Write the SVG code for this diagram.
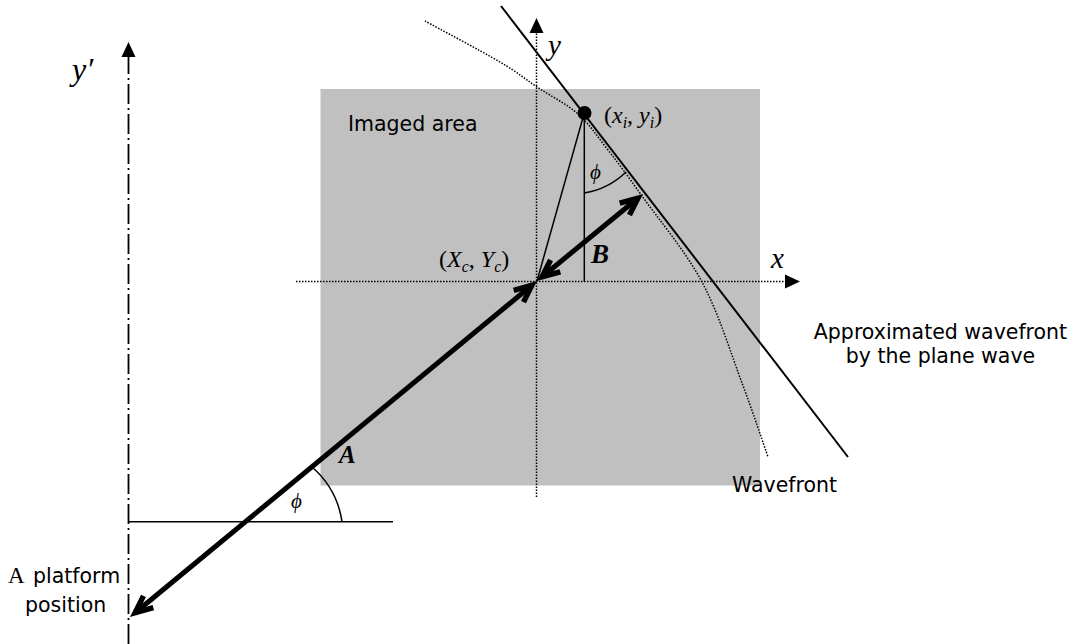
<svg xmlns="http://www.w3.org/2000/svg" width="1083" height="644" viewBox="0 0 1083 644">
<style>
.sans{font-family:"DejaVu Sans","Liberation Sans",sans-serif;font-size:20.5px;fill:#000}
.serif{font-family:"Liberation Serif","Times New Roman",serif;fill:#000}
.it{font-style:italic}
.bi{font-style:italic;font-weight:bold}
.thin{stroke:#000;stroke-width:1.5;fill:none}
.plane{stroke:#000;stroke-width:2;fill:none}
.dot{stroke:#000;stroke-width:1.5;fill:none;stroke-dasharray:1.5 1.5}
.dashdot{stroke:#000;stroke-width:1.8;fill:none;stroke-dasharray:20 4 2 4}
.thick{stroke:#000;stroke-width:5;fill:none;marker-start:url(#barb);marker-end:url(#barb)}
</style>
<defs>
<marker id="tri" markerUnits="userSpaceOnUse" orient="auto" markerWidth="20" markerHeight="20" refX="0" refY="0" overflow="visible"><path d="M0,-7 L15,0 L0,7 Z" fill="#000"/></marker>
<marker id="barb" markerUnits="userSpaceOnUse" orient="auto-start-reverse" markerWidth="30" markerHeight="30" refX="0" refY="0" overflow="visible"><path d="M6,0 L-16.8,-10.2 L-19,-5.2 L-7.3,0 L-19,5.2 L-16.8,10.2 Z" fill="#000"/></marker>
</defs>
<rect x="0" y="0" width="1083" height="644" fill="#fff"/>

<g id="imaged-area">
<rect x="320.5" y="89" width="439.5" height="396.5" fill="#c0c0c0"/>
<text class="sans" x="348" y="131">Imaged area</text>
</g>

<g id="axes">
<line class="dot" x1="296" y1="281.5" x2="785" y2="281.5" marker-end="url(#tri)"/>
<line class="dot" x1="536.5" y1="497" x2="536.5" y2="33" marker-end="url(#tri)"/>
<line class="dashdot" x1="128.5" y1="644" x2="128.5" y2="57" marker-end="url(#tri)"/>
<text class="serif it" font-size="29" x="771" y="268">x</text>
<text class="serif it" font-size="29" x="548" y="55">y</text>
<text class="serif it" font-size="32" x="72" y="80">y′</text>
</g>

<g id="wavefront">
<path class="dot" d="M425,21 C437.5,27.8 481.3,51 500,62 C518.7,73 524,78.3 537,87 C550,95.7 566.2,103.5 578,114 C589.8,124.5 597.3,136.3 608,150 C618.7,163.7 626.3,174 642,196 C657.7,218 685.3,250.8 702,282 C718.7,313.2 731,353.8 742,383 C753,412.2 763.7,444.7 768,457"/>
<text class="sans" x="732" y="492">Wavefront</text>
</g>

<g id="plane-wave">
<line class="plane" x1="501" y1="6" x2="848" y2="457"/>
<text class="sans" text-anchor="middle" x="940.5" y="339">Approximated wavefront</text>
<text class="sans" text-anchor="middle" x="940.5" y="363">by the plane wave</text>
</g>

<g id="point-i">
<circle cx="584.5" cy="113" r="7" fill="#000"/>
<text class="serif" font-size="24" x="604" y="123">(<tspan class="it">x</tspan><tspan class="it" font-size="16" dy="5">i</tspan><tspan dy="-5">, </tspan><tspan class="it">y</tspan><tspan class="it" font-size="16" dy="5">i</tspan><tspan dy="-5">)</tspan></text>
</g>

<g id="center">
<text class="serif" font-size="24" x="439" y="267">(<tspan class="it">X</tspan><tspan class="it" font-size="16" dy="5">c</tspan><tspan dy="-5">, </tspan><tspan class="it">Y</tspan><tspan class="it" font-size="16" dy="5">c</tspan><tspan dy="-5">)</tspan></text>
</g>

<g id="platform">
<line class="thin" x1="128.5" y1="521.7" x2="393" y2="521.7"/>
<text class="sans" y="583"><tspan class="serif" font-size="23" x="8">A </tspan><tspan x="33">platform</tspan></text>
<text class="sans" x="25" y="612">position</text>
</g>

<g id="connectors">
<line class="thin" x1="584.3" y1="113" x2="584.3" y2="281.5"/>
<line class="thin" x1="584" y1="114" x2="537" y2="281"/>
<path class="thin" d="M584.3,193 A78,78 0 0 0 626,172"/>
<path class="thin" d="M342,521.7 A90,90 0 0 0 312,467"/>
<line class="thick" x1="532.4" y1="284.8" x2="134.6" y2="613.2"/>
<line class="thick" x1="541.6" y1="277.2" x2="638.4" y2="197.8"/>
<text class="serif it" font-size="21" x="590" y="179">ϕ</text>
<text class="serif it" font-size="21" x="291" y="508">ϕ</text>
<text class="serif bi" font-size="25" x="339" y="463">A</text>
<text class="serif bi" font-size="27" x="591" y="263">B</text>
</g>
</svg>
